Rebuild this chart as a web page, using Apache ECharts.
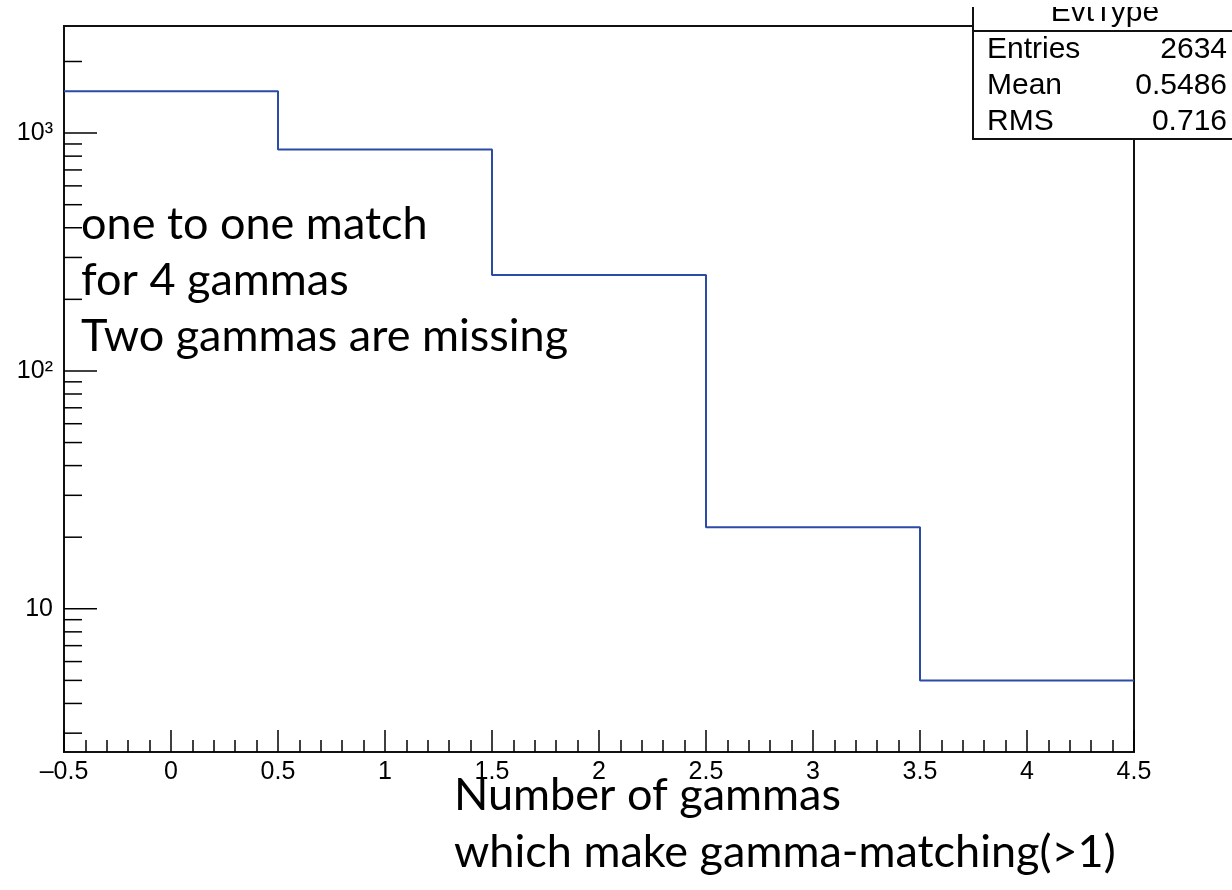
<!DOCTYPE html>
<html>
<head>
<meta charset="utf-8">
<script src="https://cdn.jsdelivr.net/npm/echarts@6/dist/echarts.min.js"></script>
<style>
  html, body { margin: 0; padding: 0; background: #fff; }
  #chart { width: 1232px; height: 890px; }
</style>
</head>
<body>
<div id="chart"></div>
<script>
// ---- data ----
const binEdges = [-0.5, 0.5, 1.5, 2.5, 3.5, 4.5];
const binCounts = [1501, 853, 253, 22, 5];

const xTickLabels = ['\u20130.5', '0', '0.5', '1', '1.5', '2', '2.5', '3', '3.5', '4', '4.5'];
const yMajorTicks = [10, 100, 1000];
const yTickLabels = ['10', '10\u00B2', '10\u00B3'];
const yMinorTicks = [3, 4, 5, 6, 7, 8, 9, 20, 30, 40, 50, 60, 70, 80, 90,
                     200, 300, 400, 500, 600, 700, 800, 900, 2000];

const statsTitle = 'EvtType';
const statNames = ['Entries', 'Mean', 'RMS'];
const statValues = ['2634', '0.5486', '0.716'];

const noteLines = ['one to one match', 'for 4 gammas', 'Two gammas are missing'];
const xTitleLines = ['Number of gammas', 'which make gamma-matching(>1)'];

const xMin = -0.5, xMax = 4.5, yMin = 2.5, yMax = 2820;

// ---- build ----
const stepData = binCounts.map((c, i) => [binEdges[i], c]);
stepData.push([binEdges[binEdges.length - 1], binCounts[binCounts.length - 1]]);

const ROOT_FONT = '"Liberation Sans", Arial, Helvetica, sans-serif';
const NOTE_FONT = 'Lato, "Open Sans", sans-serif';

function tickSeries(values, len) {
  return {
    type: 'custom',
    coordinateSystem: 'cartesian2d',
    silent: true,
    z: 5,
    encode: { x: 0, y: 1 },
    data: values.map(v => [xMin, v]),
    renderItem: function (params, api) {
      const p = api.coord([api.value(0), api.value(1)]);
      return {
        type: 'line',
        shape: { x1: p[0], y1: p[1], x2: p[0] + len, y2: p[1] },
        style: { stroke: '#000', lineWidth: 1.5 }
      };
    }
  };
}

const graphics = [];
// stats box
graphics.push({
  type: 'rect', z: 100,
  shape: { x: 973, y: -10, width: 280, height: 149 },
  style: { fill: '#fff', stroke: '#111', lineWidth: 2 }
});
graphics.push({
  type: 'line', z: 101,
  shape: { x1: 973, y1: 31, x2: 1240, y2: 31 },
  style: { stroke: '#111', lineWidth: 2 }
});
graphics.push({
  type: 'text', z: 101, x: 1105, y: 13,
  style: { text: statsTitle, font: '30px ' + ROOT_FONT, fill: '#000', align: 'center', verticalAlign: 'middle' }
});
statNames.forEach((n, i) => {
  graphics.push({
    type: 'text', z: 101, x: 987, y: 50 + i * 36,
    style: { text: n, font: '30px ' + ROOT_FONT, fill: '#000', align: 'left', verticalAlign: 'middle' }
  });
  graphics.push({
    type: 'text', z: 101, x: 1227, y: 50 + i * 36,
    style: { text: statValues[i], font: '30px ' + ROOT_FONT, fill: '#000', align: 'right', verticalAlign: 'middle' }
  });
});
// white band cutting the top of the stats box
graphics.push({
  type: 'rect', z: 110,
  shape: { x: 940, y: 0, width: 300, height: 7 },
  style: { fill: '#fff' }
});
// annotation
noteLines.forEach((t, i) => {
  graphics.push({
    type: 'text', z: 50, x: 81, y: 224 + i * 56,
    style: { text: t, font: '45px ' + NOTE_FONT, fill: '#000', align: 'left', verticalAlign: 'middle' }
  });
});
xTitleLines.forEach((t, i) => {
  graphics.push({
    type: 'text', z: 50, x: 454, y: 795 + i * 57,
    style: { text: t, font: '45px ' + NOTE_FONT, fill: '#000', align: 'left', verticalAlign: 'middle' }
  });
});

const chart = echarts.init(document.getElementById('chart'), null, { renderer: 'canvas' });
chart.setOption({
  animation: false,
  backgroundColor: '#fff',
  grid: {
    left: 64, top: 26, right: 98, bottom: 138,
    show: true, borderColor: '#111', borderWidth: 2, backgroundColor: 'transparent'
  },
  xAxis: {
    type: 'value',
    min: xMin, max: xMax, interval: 0.5,
    axisLine: { show: true, onZero: false, lineStyle: { color: '#111', width: 2 } },
    axisTick: { show: true, inside: true, length: 22, lineStyle: { color: '#000', width: 1.5 } },
    minorTick: { show: true, splitNumber: 5, length: 12, lineStyle: { color: '#000', width: 1.5 } },
    splitLine: { show: false },
    axisLabel: {
      margin: 8,
      color: '#000',
      fontFamily: ROOT_FONT,
      fontSize: 25,
      showMinLabel: true, showMaxLabel: true,
      formatter: function (v, idx) { return xTickLabels[idx] !== undefined ? xTickLabels[idx] : ''; }
    }
  },
  yAxis: {
    type: 'log',
    logBase: 10,
    min: yMin, max: yMax,
    axisLine: { show: true, onZero: false, lineStyle: { color: '#111', width: 2 } },
    axisTick: { show: false },
    splitLine: { show: false },
    axisLabel: {
      margin: 11,
      color: '#000',
      fontFamily: ROOT_FONT,
      fontSize: 25,
      formatter: function (v) {
        for (let i = 0; i < yMajorTicks.length; i++) {
          if (Math.abs(Math.log10(v) - Math.log10(yMajorTicks[i])) < 1e-6) return yTickLabels[i];
        }
        return '';
      }
    }
  },
  series: [
    {
      type: 'line',
      step: 'end',
      data: stepData,
      showSymbol: false,
      symbol: 'none',
      clip: true,
      z: 10,
      lineStyle: { color: '#2a4ba6', width: 2 }
    },
    tickSeries(yMajorTicks, 33),
    tickSeries(yMinorTicks, 18)
  ],
  graphic: graphics
});
</script>
</body>
</html>
